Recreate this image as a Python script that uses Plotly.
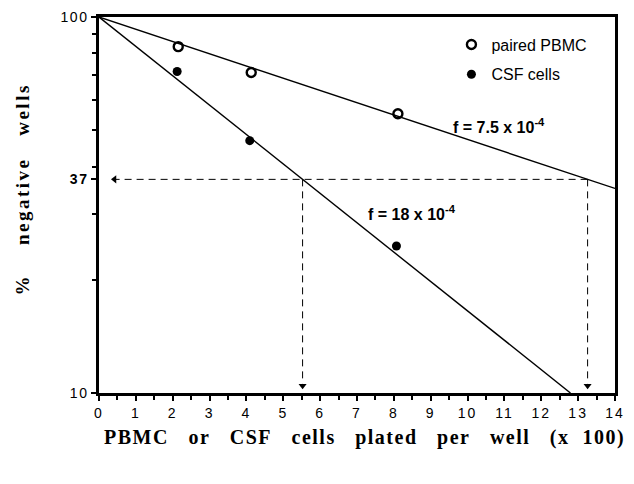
import numpy as np
import plotly.graph_objects as go

# ---- data ----
pbmc_x = [2.15, 4.13, 8.11]
pbmc_y = [83.4, 71.2, 55.3]
csf_x = [2.12, 4.09, 8.07]
csf_y = [71.6, 46.9, 24.6]
f_pbmc = 7.5e-4          # frequency per cell
f_csf = 18e-4
x_scale = 100            # x axis in units of 100 cells
x_ticks = list(range(0, 15))
y_ticks = [10, 37, 100]
y_ticklabels = ["10", "<b>37</b>", "100"]
y_minor = [20, 30, 40, 50, 60, 70, 80, 90]

# derived lines (single-hit Poisson: % negative = 100*exp(-f*N))
def frac(f, x):
    return 100 * np.exp(-f * x_scale * np.asarray(x))

x_max = 14
x37_pbmc = np.log(100 / 37) / (f_pbmc * x_scale)
x37_csf = np.log(100 / 37) / (f_csf * x_scale)
x10_csf = np.log(100 / 10) / (f_csf * x_scale)

fig = go.Figure()

# fitted lines
fig.add_trace(go.Scatter(x=[0, x_max], y=frac(f_pbmc, [0, x_max]), mode="lines",
                         line=dict(color="black", width=1.4), showlegend=False, hoverinfo="skip"))
fig.add_trace(go.Scatter(x=[0, x10_csf], y=frac(f_csf, [0, x10_csf]), mode="lines",
                         line=dict(color="black", width=1.4), showlegend=False, hoverinfo="skip"))

# dashed guide lines at 37%
dash = dict(color="black", width=1, dash="7px,5px")
fig.add_trace(go.Scatter(x=[x37_pbmc, 0.45], y=[37, 37], mode="lines", line=dash,
                         showlegend=False, hoverinfo="skip"))
fig.add_trace(go.Scatter(x=[x37_csf, x37_csf], y=[37, 10.6], mode="lines", line=dash,
                         showlegend=False, hoverinfo="skip"))
fig.add_trace(go.Scatter(x=[x37_pbmc, x37_pbmc], y=[37, 10.6], mode="lines", line=dash,
                         showlegend=False, hoverinfo="skip"))
# arrowheads
fig.add_trace(go.Scatter(x=[0.42], y=[37], mode="markers", showlegend=False, hoverinfo="skip",
                         marker=dict(symbol="triangle-left", size=7, color="black")))
fig.add_trace(go.Scatter(x=[x37_csf, x37_pbmc], y=[10.45, 10.45], mode="markers",
                         showlegend=False, hoverinfo="skip",
                         marker=dict(symbol="triangle-down", size=7, color="black")))

# data points
fig.add_trace(go.Scatter(x=pbmc_x, y=pbmc_y, mode="markers", name="paired PBMC",
                         legendgroup="a",
                         marker=dict(symbol="circle-open", size=9, color="black",
                                     line=dict(width=2.4, color="black"))))
fig.add_trace(go.Scatter(x=csf_x, y=csf_y, mode="markers", name="CSF cells",
                         legendgroup="b",
                         marker=dict(symbol="circle", size=9, color="black")))

annotations = []
# f labels
annotations.append(dict(x=9.55, y=np.log10(51.4), xref="x", yref="y", xanchor="left", yanchor="middle",
                        text="<b>f = 7.5 x 10<sup>-4</sup></b>", showarrow=False,
                        font=dict(family="Liberation Sans, Arial", size=16, color="black")))
annotations.append(dict(x=7.25, y=np.log10(30.2), xref="x", yref="y", xanchor="left", yanchor="middle",
                        text="<b>f = 18 x 10<sup>-4</sup></b>", showarrow=False,
                        font=dict(family="Liberation Sans, Arial", size=16, color="black")))

# axis titles
sp = "\u00a0"
annotations.append(dict(x=0.515, y=0, xref="paper", yref="paper", yshift=-44,
                        xanchor="center", yanchor="middle", showarrow=False,
                        text="<span style='letter-spacing:1.5px'><b>PBMC" + sp*3 + "or" + sp*3 + "CSF" + sp*3 +
                             "cells" + sp*3 + "plated" + sp*3 + "per" + sp*3 + "well" + sp*3 + "(x" + sp*2 + "100)</b></span>",
                        font=dict(family="Liberation Serif, Times New Roman", size=20, color="black")))
annotations.append(dict(x=-0.148, y=0.54, xref="paper", yref="paper", textangle=-90,
                        xanchor="center", yanchor="middle", showarrow=False,
                        text="<span style='letter-spacing:2.5px'><b>%" + sp*4 + "negative" + sp*3 + "wells</b></span>",
                        font=dict(family="Liberation Serif, Times New Roman", size=19, color="black")))

fig.update_layout(
    width=634, height=484,
    margin=dict(l=99, r=9, t=16, b=91),
    paper_bgcolor="white", plot_bgcolor="white",
    font=dict(family="Liberation Sans, Arial", size=14, color="black"),
    annotations=annotations,
    legend=dict(x=0.683, y=0.972, xanchor="left", yanchor="top",
                bgcolor="rgba(0,0,0,0)", tracegroupgap=6, traceorder="grouped",
                font=dict(family="Liberation Sans, Arial", size=16, color="black")),
    xaxis=dict(range=[0, 14], tickvals=x_ticks,
               ticktext=["<span style='letter-spacing:2px'>%d</span>" % t for t in x_ticks],
               ticks="outside", ticklen=5, tickwidth=2, tickcolor="black",
               minor=dict(tickvals=[t + 0.5 for t in x_ticks[:-1]], ticks="outside",
                          ticklen=4, tickwidth=1.5, tickcolor="black"),
               showline=True, linewidth=2.5, linecolor="black", mirror=True,
               showgrid=False, zeroline=False,
               tickfont=dict(family="Liberation Sans, Arial", size=14)),
    yaxis=dict(type="log", range=[1, 2], tickvals=y_ticks,
               ticktext=["<span style='letter-spacing:1.5px'>%s</span>" % t for t in y_ticklabels],
               ticks="outside", ticklen=5, tickwidth=2, tickcolor="black",
               minor=dict(tickvals=y_minor, ticks="outside", ticklen=4, tickwidth=1.5,
                          tickcolor="black"),
               showline=True, linewidth=2.5, linecolor="black", mirror=True,
               showgrid=False, zeroline=False,
               tickfont=dict(family="Liberation Sans, Arial", size=14)),
)

fig.write_html("out.html")
